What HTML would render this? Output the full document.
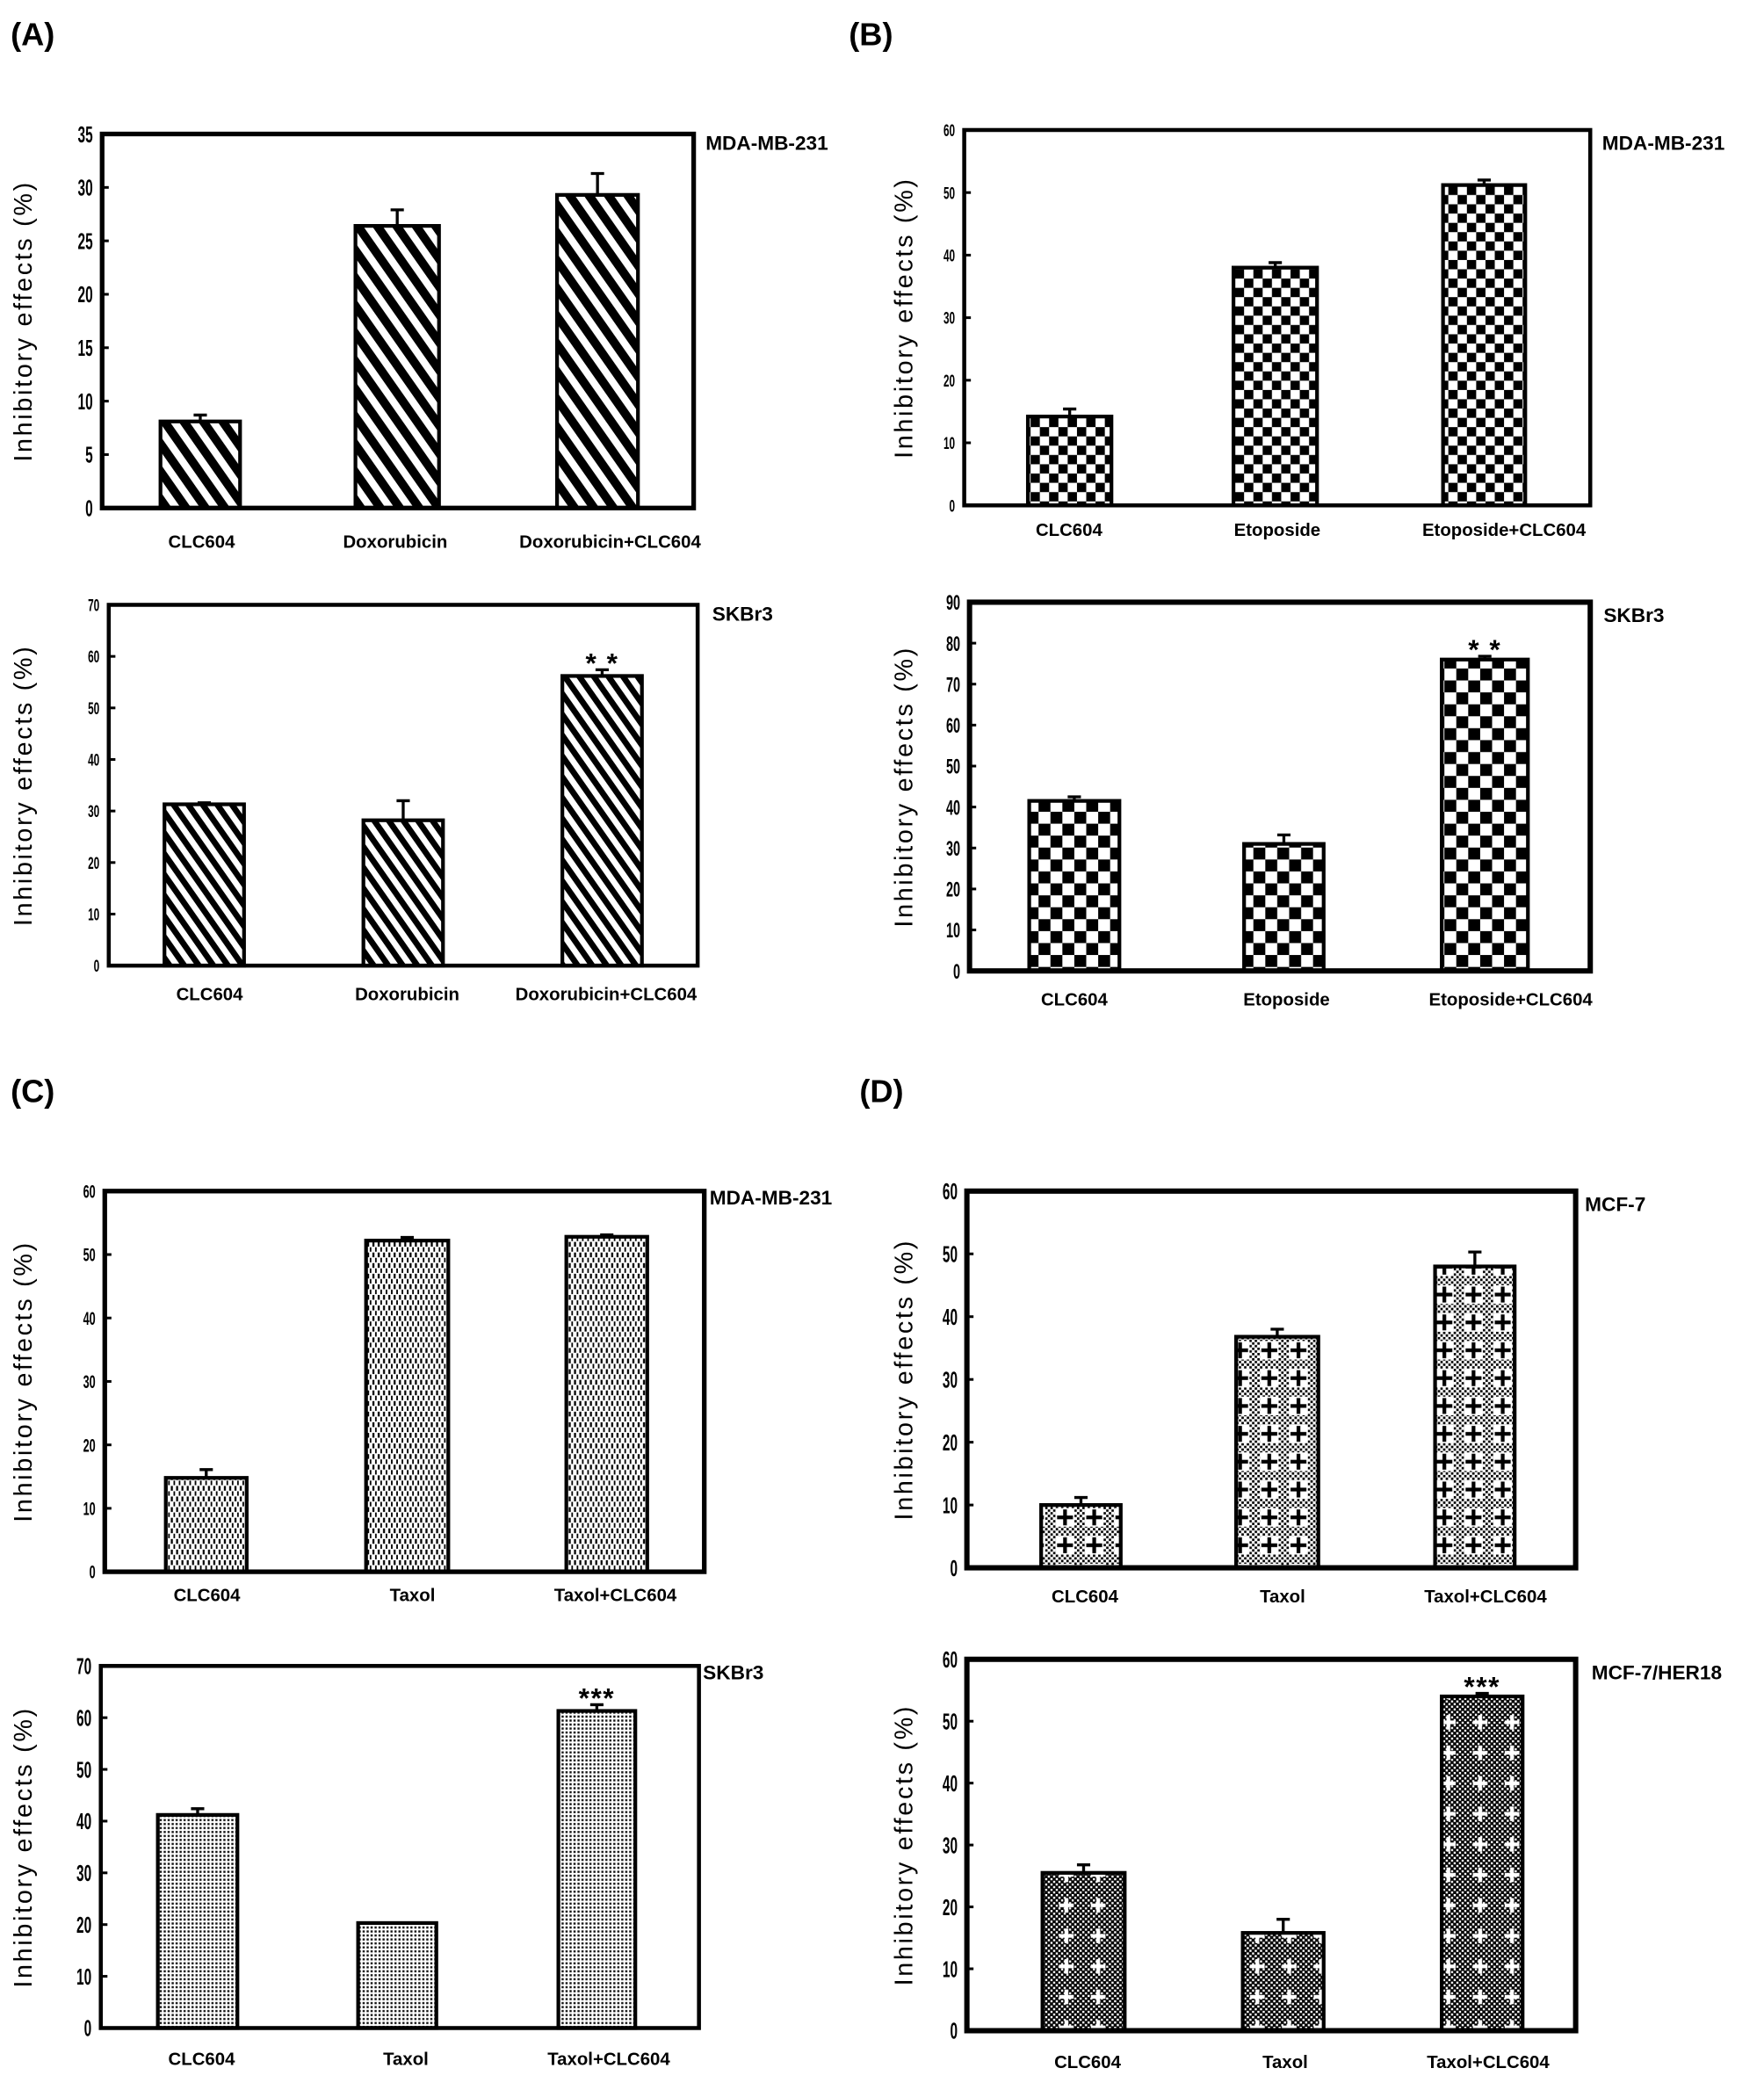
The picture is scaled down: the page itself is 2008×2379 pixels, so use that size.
<!DOCTYPE html>
<html><head><meta charset="utf-8">
<style>
html,body{margin:0;padding:0;background:#fff;}
svg{display:block;}
text{font-family:"Liberation Sans",sans-serif;}
</style></head>
<body>
<svg id="fig" width="2008" height="2379" viewBox="0 0 1330 1575.7" xmlns="http://www.w3.org/2000/svg">
<defs>
<pattern id="pStripeA" patternUnits="userSpaceOnUse" width="12" height="12" patternTransform="rotate(-35)">
  <rect width="12" height="12" fill="#fff"/><rect width="6.5" height="12" fill="#000"/></pattern>
<pattern id="pStripeA2" patternUnits="userSpaceOnUse" width="9" height="9" patternTransform="rotate(-35)">
  <rect width="9" height="9" fill="#fff"/><rect width="4.5" height="9" fill="#000"/></pattern>
<pattern id="pCheck" patternUnits="userSpaceOnUse" width="14" height="14">
  <rect width="14" height="14" fill="#fff"/><rect width="7" height="7" fill="#000"/><rect x="7" y="7" width="7" height="7" fill="#000"/></pattern>
<pattern id="pCheck2" patternUnits="userSpaceOnUse" width="18" height="18">
  <rect width="18" height="18" fill="#fff"/><rect width="9" height="9" fill="#000"/><rect x="9" y="9" width="9" height="9" fill="#000"/></pattern>
<pattern id="pDash" patternUnits="userSpaceOnUse" width="4" height="8">
  <rect width="4" height="8" fill="#fff"/><rect x="0.8" y="0.3" width="1.5" height="3.6" fill="#000"/><rect x="2.8" y="4.3" width="1.3" height="3.4" fill="#000"/></pattern>
<pattern id="pDots" patternUnits="userSpaceOnUse" width="3" height="3">
  <rect width="3" height="3" fill="#fff"/><rect x="0.4" y="0.4" width="1.6" height="1.6" fill="#111"/></pattern>
<pattern id="pDfine" patternUnits="userSpaceOnUse" width="4" height="4">
  <rect width="4" height="4" fill="#fff"/><rect width="1.8" height="1.8" fill="#000"/><rect x="2" y="2" width="1.8" height="1.8" fill="#000"/></pattern>
<pattern id="pDfine2" patternUnits="userSpaceOnUse" width="4" height="4">
  <rect width="4" height="4" fill="#000"/><rect width="1.6" height="1.6" fill="#fff"/><rect x="2" y="2" width="1.6" height="1.6" fill="#fff"/></pattern>
<pattern id="pPlusB" patternUnits="userSpaceOnUse" width="22" height="21">
  <rect x="4" y="3" width="14" height="14" fill="#fff"/>
  <path d="M11 4v12M5 10h12" stroke="#000" stroke-width="2.8"/></pattern>
<pattern id="pPlusW" patternUnits="userSpaceOnUse" width="24" height="23">
  <path d="M12 5v11M6.5 10.5h11" stroke="#fff" stroke-width="2.8"/></pattern>
</defs>
<g id="root"></g>
</svg>
<script>
// ---- Data ----
const catsA1 = ["CLC604", "Doxorubicin", "Doxorubicin+CLC604"];
const valsA1 = [8.1, 26.4, 29.3];
const errsA1 = [0.6, 1.5, 2.0];
const ticksA1 = [0, 5, 10, 15, 20, 25, 30, 35];

const catsA2 = ["CLC604", "Doxorubicin", "Doxorubicin+CLC604"];
const valsA2 = [31.3, 28.2, 56.2];
const errsA2 = [0.3, 3.8, 1.2];
const ticksA2 = [0, 10, 20, 30, 40, 50, 60, 70];

const catsB1 = ["CLC604", "Etoposide", "Etoposide+CLC604"];
const valsB1 = [14.2, 38.0, 51.2];
const errsB1 = [1.2, 0.8, 0.8];
const ticksB1 = [0, 10, 20, 30, 40, 50, 60];

const catsB2 = ["CLC604", "Etoposide", "Etoposide+CLC604"];
const valsB2 = [41.5, 31.0, 76.0];
const errsB2 = [1.0, 2.2, 0.8];
const ticksB2 = [0, 10, 20, 30, 40, 50, 60, 70, 80, 90];

const catsC1 = ["CLC604", "Taxol", "Taxol+CLC604"];
const valsC1 = [14.8, 52.2, 52.8];
const errsC1 = [1.3, 0.5, 0.3];
const ticksC1 = [0, 10, 20, 30, 40, 50, 60];

const catsC2 = ["CLC604", "Taxol", "Taxol+CLC604"];
const valsC2 = [41.2, 20.3, 61.3];
const errsC2 = [1.2, 0.0, 1.2];
const ticksC2 = [0, 10, 20, 30, 40, 50, 60, 70];

const catsD1 = ["CLC604", "Taxol", "Taxol+CLC604"];
const valsD1 = [10.0, 36.8, 48.0];
const errsD1 = [1.2, 1.2, 2.3];
const ticksD1 = [0, 10, 20, 30, 40, 50, 60];

const catsD2 = ["CLC604", "Taxol", "Taxol+CLC604"];
const valsD2 = [25.5, 15.8, 54.0];
const errsD2 = [1.3, 2.2, 0.5];
const ticksD2 = [0, 10, 20, 30, 40, 50, 60];

// ---- Layout (not data) ----
const NS = "http://www.w3.org/2000/svg";
const root = document.getElementById('root');
function mk(tag, attrs, parent) {
  const e = document.createElementNS(NS, tag);
  for (const k in attrs) e.setAttribute(k, attrs[k]);
  (parent || root).appendChild(e);
  return e;
}

const panels = [
 {id:'a-top', cats:catsA1, vals:valsA1, errs:errsA1, ticks:ticksA1, x0:77, x1:523, y0:101, y1:383, bars:[[121,181],[268,331],[420,481]], labX:[152,298,460], labY:413, cell:'MDA-MB-231', cellX:532, cellY:113, fill:['url(#pStripeA)'], stars:null, tickFs:17, bw:3.5, titleX:20},
 {id:'a-bottom', cats:catsA2, vals:valsA2, errs:errsA2, ticks:ticksA2, x0:82, x1:526, y0:456, y1:728, bars:[[124,184],[274,334],[424,484]], labX:[158,307,457], labY:754, cell:'SKBr3', cellX:537, cellY:468, fill:['url(#pStripeA2)'], stars:'* *', tickFs:13, bw:3, titleX:20},
 {id:'b-top', cats:catsB1, vals:valsB1, errs:errsB1, ticks:ticksB1, x0:727, x1:1199, y0:98, y1:381, bars:[[775,838],[930,993],[1088,1150]], labX:[806,963,1134], labY:404, cell:'MDA-MB-231', cellX:1208, cellY:113, fill:['url(#pCheck)'], stars:null, tickFs:13, bw:3, titleX:684},
 {id:'b-bottom', cats:catsB2, vals:valsB2, errs:errsB2, ticks:ticksB2, x0:731, x1:1199, y0:454, y1:732, bars:[[776,844],[938,998],[1087,1152]], labX:[810,970,1139], labY:758, cell:'SKBr3', cellX:1209, cellY:469, fill:['url(#pCheck2)'], stars:'* *', tickFs:16, bw:4, titleX:684},
 {id:'c-top', cats:catsC1, vals:valsC1, errs:errsC1, ticks:ticksC1, x0:79, x1:531, y0:898, y1:1185, bars:[[125,186],[276,338],[427,488]], labX:[156,311,464], labY:1207, cell:'MDA-MB-231', cellX:535, cellY:908, fill:['url(#pDash)'], stars:null, tickFs:14, bw:3.5, titleX:20},
 {id:'c-bottom', cats:catsC2, vals:valsC2, errs:errsC2, ticks:ticksC2, x0:76, x1:527, y0:1256, y1:1529, bars:[[119,179],[270,329],[421,479]], labX:[152,306,459], labY:1557, cell:'SKBr3', cellX:530, cellY:1266, fill:['url(#pDots)'], stars:'***', tickFs:17, bw:3, titleX:20},
 {id:'d-top', cats:catsD1, vals:valsD1, errs:errsD1, ticks:ticksD1, x0:729, x1:1188, y0:898, y1:1182, bars:[[785,845],[932,994],[1082,1142]], labX:[818,967,1120], labY:1208, cell:'MCF-7', cellX:1195, cellY:913, fill:['url(#pDfine)','url(#pPlusB)'], stars:null, tickFs:17, bw:4, titleX:684},
 {id:'d-bottom', cats:catsD2, vals:valsD2, errs:errsD2, ticks:ticksD2, x0:729, x1:1188, y0:1251, y1:1531, bars:[[786,848],[937,998],[1087,1148]], labX:[820,969,1122], labY:1559, cell:'MCF-7/HER18', cellX:1200, cellY:1266, fill:['url(#pDfine2)','url(#pPlusW)'], stars:'***', tickFs:17, bw:4, titleX:684}
];

panels.forEach(p => {
  const g = mk('g', {});
  
  
  const maxT = p.ticks[p.ticks.length - 1];
  const y = v => p.y1 - (v / maxT) * (p.y1 - p.y0);

  p.vals.forEach((v, i) => {
    const [bx0, bx1] = p.bars[i];
    const top = y(v);
    p.fill.forEach(f => {
      const r = mk('rect', {x:bx0, y:top, width:bx1-bx0, height:p.y1-top, fill:f}, g);
      
      
    });
    const br = mk('rect', {x:bx0, y:top, width:bx1-bx0, height:p.y1-top, fill:'none', stroke:'#000', 'stroke-width':2.8}, g);
    
    
    const cx = (bx0 + bx1) / 2;
    const et = y(v + p.errs[i]);
    if (p.errs[i] > 0) {
      const el = mk('path', {d:`M${cx} ${top}V${et}M${cx-5} ${et}H${cx+5}`, stroke:'#000', 'stroke-width':2.2, fill:'none'}, g);
      
      
    }
    if (p.stars && i === 2) {
      const st = mk('text', {x:cx, y:Math.min(et, top) + 2, 'text-anchor':'middle', 'font-size':21, 'font-weight':'bold', 'letter-spacing':p.stars === '* *' ? 1 : 1}, g);
      st.textContent = p.stars;
      
      
    }
    const lb = mk('text', {x:p.labX[i], y:p.labY, 'text-anchor':'middle', 'font-size':13.5, 'font-weight':'bold'}, g);
    lb.textContent = p.cats[i];
    
    
  });

  const fr = mk('rect', {x:p.x0, y:p.y0, width:p.x1-p.x0, height:p.y1-p.y0, fill:'none', stroke:'#000', 'stroke-width':p.bw}, g);
  
  

  p.ticks.forEach(t => {
    const ty = y(t);
    const tk = mk('path', {d:`M${p.x0} ${ty}h5`, stroke:'#000', 'stroke-width':2}, g);
    
    
    const tl = mk('text', {transform:`translate(${p.x0-7},${ty + p.tickFs*0.36}) scale(0.6,1)`, 'text-anchor':'end', 'font-size':p.tickFs, 'font-weight':'bold'}, g);
    tl.textContent = t;
    
    
  });

  const cl = mk('text', {x:p.cellX, y:p.cellY, 'font-size':15, 'font-weight':'bold'}, g);
  cl.textContent = p.cell;
  
  

  const cy = (p.y0 + p.y1) / 2;
  const yt = mk('text', {transform:`translate(${p.titleX + 4},${cy}) rotate(-90)`, 'text-anchor':'middle', 'font-size':19, 'letter-spacing':1.8}, g);
  yt.textContent = 'Inhibitory effects (%)';
  
  
});

[['(A)',8,34],['(B)',640,34],['(C)',8,831],['(D)',648,831]].forEach(l => {
  const t = mk('text', {x:l[1], y:l[2], 'font-size':24, 'font-weight':'bold'});
  t.textContent = l[0];
  
  
});
</script>
</body></html>
